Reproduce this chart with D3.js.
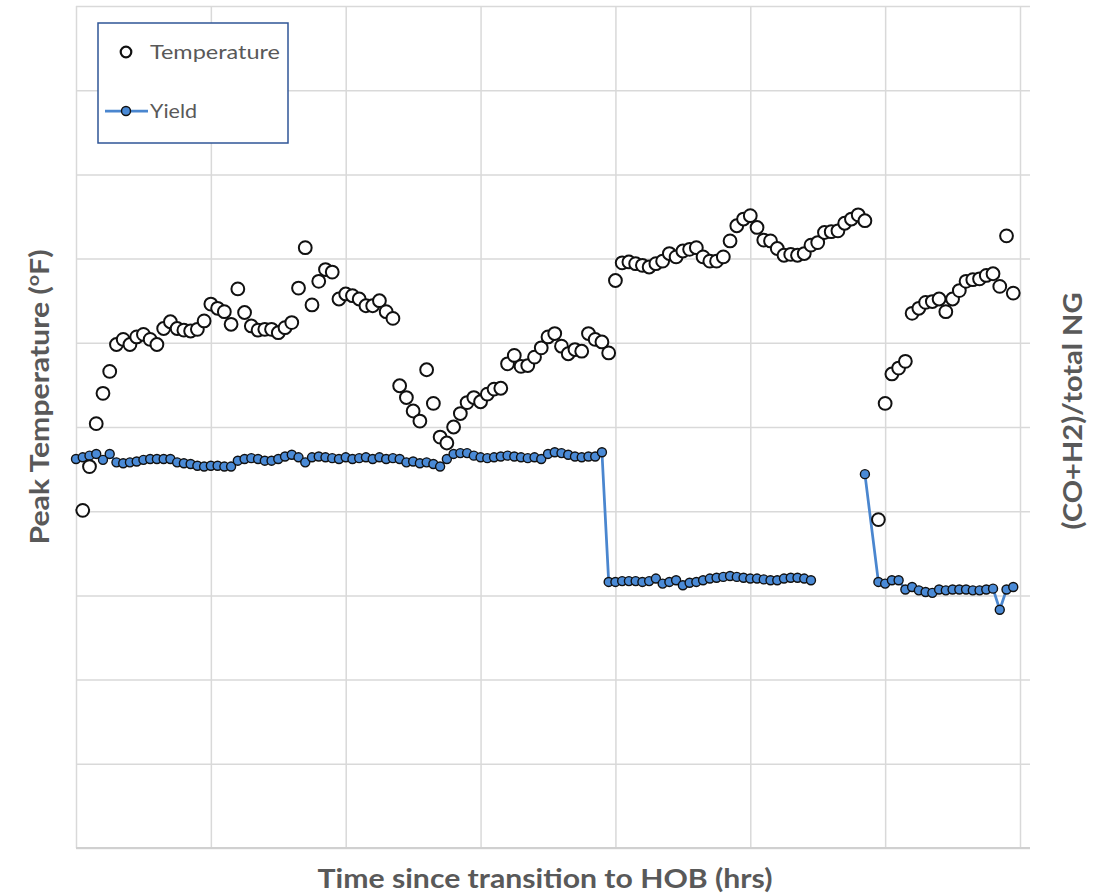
<!DOCTYPE html>
<html>
<head>
<meta charset="utf-8">
<script src="https://cdn.jsdelivr.net/npm/d3@7"></script>
<style>
  body { margin: 0; background: #fff; }
  svg { display: block; }
</style>
</head>
<body>
<script>
// time since transition to HOB (hrs), one row every 0.05 h, row at 5.90 h missing
const timeHrs = [
  0, 0.05, 0.1, 0.15, 0.2, 0.25, 0.3, 0.35, 0.4, 0.45,
  0.5, 0.55, 0.6, 0.65, 0.7, 0.75, 0.8, 0.85, 0.9, 0.95,
  1, 1.05, 1.1, 1.15, 1.2, 1.25, 1.3, 1.35, 1.4, 1.45,
  1.5, 1.55, 1.6, 1.65, 1.7, 1.75, 1.8, 1.85, 1.9, 1.95,
  2, 2.05, 2.1, 2.15, 2.2, 2.25, 2.3, 2.35, 2.4, 2.45,
  2.5, 2.55, 2.6, 2.65, 2.7, 2.75, 2.8, 2.85, 2.9, 2.95,
  3, 3.05, 3.1, 3.15, 3.2, 3.25, 3.3, 3.35, 3.4, 3.45,
  3.5, 3.55, 3.6, 3.65, 3.7, 3.75, 3.8, 3.85, 3.9, 3.95,
  4, 4.05, 4.1, 4.15, 4.2, 4.25, 4.3, 4.35, 4.4, 4.45,
  4.5, 4.55, 4.6, 4.65, 4.7, 4.75, 4.8, 4.85, 4.9, 4.95,
  5, 5.05, 5.1, 5.15, 5.2, 5.25, 5.3, 5.35, 5.4, 5.45,
  5.5, 5.55, 5.6, 5.65, 5.7, 5.75, 5.8, 5.85, 5.95,
  6, 6.05, 6.1, 6.15, 6.2, 6.25, 6.3, 6.35, 6.4, 6.45,
  6.5, 6.55, 6.6, 6.65, 6.7, 6.75, 6.8, 6.85, 6.9, 6.95
]

// peak temperature, F (no reading at t = 0)
const tempF = [
  null,
  1401, 1453, 1504, 1540, 1566, 1598, 1604, 1598, 1607, 1610,
  1604, 1598, 1617, 1625, 1617, 1615, 1614, 1616, 1626, 1646,
  1641, 1637, 1622, 1664, 1636, 1620, 1615, 1616, 1616, 1612,
  1618, 1624, 1665, 1713, 1645, 1673, 1687, 1684, 1652, 1658,
  1656, 1652, 1644, 1644, 1650, 1637, 1629, 1549, 1535, 1519,
  1507, 1568, 1528, 1488, 1481, 1500, 1516, 1529, 1535, 1530,
  1539, 1545, 1546, 1575, 1585, 1572, 1573, 1583, 1594, 1607,
  1611, 1596, 1587, 1592, 1590, 1611, 1604, 1601, 1588, 1674,
  1695, 1696, 1694, 1692, 1690, 1694, 1697, 1706, 1702, 1709,
  1711, 1713, 1702, 1697, 1697, 1702, 1721, 1739, 1747, 1751,
  1737, 1722, 1721, 1712, 1704, 1705, 1704, 1706, 1716, 1719,
  1731, 1732, 1733, 1742, 1747, 1752, 1745,
  1390, 1528, 1563, 1570, 1578, 1635, 1641, 1648, 1649, 1652,
  1637, 1652, 1662, 1673, 1675, 1676, 1680, 1682, 1667, 1727, 1659
]

// (CO+H2)/total NG, null where there was no analyser reading
const yieldRatio = [
  0.462, 0.464, 0.466, 0.468, 0.461, 0.468, 0.458, 0.457, 0.458, 0.459,
  0.461, 0.462, 0.462, 0.462, 0.462, 0.458, 0.457, 0.456, 0.454, 0.453,
  0.454, 0.454, 0.453, 0.453, 0.460, 0.462, 0.463, 0.462, 0.460, 0.460,
  0.462, 0.465, 0.467, 0.464, 0.458, 0.464, 0.465, 0.464, 0.463, 0.462,
  0.464, 0.462, 0.463, 0.464, 0.462, 0.464, 0.462, 0.463, 0.462, 0.458,
  0.459, 0.457, 0.458, 0.456, 0.453, 0.462, 0.468, 0.469, 0.469, 0.466,
  0.464, 0.463, 0.464, 0.465, 0.466, 0.465, 0.464, 0.463, 0.464, 0.462,
  0.468, 0.470, 0.469, 0.467, 0.465, 0.464, 0.465, 0.465, 0.470,
  0.316, 0.316, 0.317, 0.317, 0.317, 0.316, 0.317, 0.320, 0.314, 0.316,
  0.318, 0.312, 0.315, 0.316, 0.318, 0.320, 0.321, 0.322, 0.323, 0.322,
  0.321, 0.320, 0.320, 0.319, 0.318, 0.318, 0.320, 0.321, 0.321, 0.320, 0.318,
  null, null, null, null, null, null, null,
  0.444,
  0.316, 0.314, 0.318, 0.318, 0.307, 0.310, 0.306, 0.304, 0.303, 0.307,
  0.306, 0.307, 0.307, 0.307, 0.306, 0.306, 0.307, 0.308, 0.283, 0.307, 0.310
]

const xTicks = [0, 1, 2, 3, 4, 5, 6, 7]
const tempTicks = [1000, 1100, 1200, 1300, 1400, 1500, 1600, 1700, 1800, 1900, 2000]

const width = 1101, height = 895
const plot = { left: 76, right: 1020, top: 6, bottom: 848, gridEnd: 1030 }
const gray = '#595959'
const font = 'Lato, "Open Sans", sans-serif'

let rows = timeHrs.map((t, i) => ({ t: t, temp: tempF[i], yld: yieldRatio[i] }))

let x = d3.scaleLinear().domain([0, 7]).range([plot.left, plot.right])
let yT = d3.scaleLinear().domain([1000, 2000]).range([plot.bottom, plot.top])
let yY = d3.scaleLinear().domain([0, 1]).range([plot.bottom, plot.top])

const svg = d3.select('body').append('svg')
    .attr('width', width)
    .attr('height', height)
    .attr('viewBox', [0, 0, width, height])

svg.append('rect').attr('width', width).attr('height', height).attr('fill', '#fff')

// horizontal gridlines (run a little past the last vertical one)
svg.append('g')
  .attr('transform', `translate(${plot.left},0)`)
  .call(d3.axisLeft(yT).tickValues(tempTicks).tickSize(-(plot.gridEnd - plot.left)).tickFormat(''))
  .call(g => g.select('.domain').remove())
  .call(g => g.selectAll('line').attr('stroke', '#d9d9d9').attr('stroke-width', 1.5))

// vertical gridlines
svg.append('g')
  .attr('transform', `translate(0,${plot.bottom})`)
  .call(d3.axisBottom(x).tickValues(xTicks).tickSize(-(plot.bottom - plot.top)).tickFormat(''))
  .call(g => g.select('.domain').remove())
  .call(g => g.selectAll('line').attr('stroke', '#d9d9d9').attr('stroke-width', 1.5))

// bottom axis line
svg.append('line')
  .attr('x1', plot.left).attr('x2', plot.gridEnd)
  .attr('y1', plot.bottom).attr('y2', plot.bottom)
  .attr('stroke', '#d0d0d0').attr('stroke-width', 2)

// yield line + markers
let yieldLine = d3.line()
    .defined(d => d.yld != null)
    .x(d => x(d.t))
    .y(d => yY(d.yld))

svg.append('path')
  .datum(rows)
  .attr('fill', 'none')
  .attr('stroke', '#4a86cf')
  .attr('stroke-width', 2.75)
  .attr('d', yieldLine)

svg.append('g')
  .selectAll('circle')
  .data(rows.filter(d => d.yld != null))
  .join('circle')
    .attr('cx', d => x(d.t))
    .attr('cy', d => yY(d.yld))
    .attr('r', 4.5)
    .attr('fill', '#4a8ad6')
    .attr('stroke', '#111')
    .attr('stroke-width', 1.4)

// temperature markers
svg.append('g')
  .selectAll('circle')
  .data(rows.filter(d => d.temp != null))
  .join('circle')
    .attr('cx', d => x(d.t))
    .attr('cy', d => yT(d.temp))
    .attr('r', 6.4)
    .attr('fill', '#fff')
    .attr('stroke', '#111')
    .attr('stroke-width', 2)

// legend
let lg = svg.append('g')
lg.append('rect')
  .attr('x', 98).attr('y', 23).attr('width', 190).attr('height', 120)
  .attr('fill', '#fff').attr('stroke', '#2f5597').attr('stroke-width', 1.5)
lg.append('circle')
  .attr('cx', 126).attr('cy', 52).attr('r', 5.3)
  .attr('fill', '#fff').attr('stroke', '#111').attr('stroke-width', 2.2)
lg.append('text')
  .attr('x', 150).attr('y', 59)
  .attr('fill', gray).style('font', `20px ${font}`)
  .attr('textLength', 130).attr('lengthAdjust', 'spacingAndGlyphs')
  .text('Temperature')
lg.append('line')
  .attr('x1', 105).attr('x2', 148).attr('y1', 111).attr('y2', 111)
  .attr('stroke', '#4a86cf').attr('stroke-width', 2.75)
lg.append('circle')
  .attr('cx', 126).attr('cy', 111).attr('r', 4.5)
  .attr('fill', '#4a8ad6').attr('stroke', '#111').attr('stroke-width', 1.4)
lg.append('text')
  .attr('x', 150).attr('y', 118)
  .attr('fill', gray).style('font', `20px ${font}`)
  .attr('textLength', 47).attr('lengthAdjust', 'spacingAndGlyphs')
  .text('Yield')

// axis titles
svg.append('text')
  .attr('x', 545).attr('y', 888)
  .attr('text-anchor', 'middle')
  .attr('fill', gray).style('font', `bold 26px ${font}`)
  .attr('textLength', 455).attr('lengthAdjust', 'spacingAndGlyphs')
  .text('Time since transition to HOB (hrs)')

let lt = svg.append('text')
  .attr('transform', 'translate(49,397) rotate(-90)')
  .attr('text-anchor', 'middle')
  .attr('fill', gray).style('font', `bold 26px ${font}`)
  .attr('textLength', 295).attr('lengthAdjust', 'spacingAndGlyphs')
lt.append('tspan').text('Peak Temperature (')
lt.append('tspan').attr('font-size', '17px').attr('dy', -10).text('o')
lt.append('tspan').attr('dy', 10).text('F)')

svg.append('text')
  .attr('transform', 'translate(1082,411) rotate(-90)')
  .attr('text-anchor', 'middle')
  .attr('fill', gray).style('font', `bold 26px ${font}`)
  .attr('textLength', 237).attr('lengthAdjust', 'spacingAndGlyphs')
  .text('(CO+H2)/total NG')
</script>
</body>
</html>
